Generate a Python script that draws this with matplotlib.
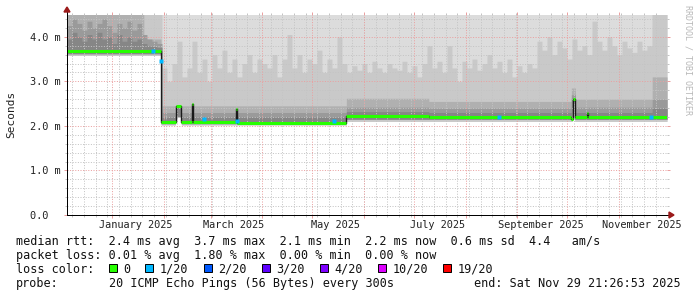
import numpy as np
import pandas as pd
import matplotlib
matplotlib.use("Agg")
import matplotlib.pyplot as plt
import matplotlib.dates as mdates
from matplotlib.patches import Rectangle, Polygon

# ---------------- data (values in ms) ----------------
start = pd.Timestamp("2024-12-04 21:26:53")
end = pd.Timestamp("2025-11-29 21:26:53")

# median rtt (step, post)
median_dates = ["2024-12-04 21:26", "2025-01-30 08:00", "2025-02-08 00:00", "2025-02-11 12:00",
                "2025-02-18 00:00", "2025-02-18 14:00", "2025-03-16 08:00", "2025-03-16 22:00",
                "2025-05-21 12:00", "2025-07-10 00:00", "2025-10-03 12:00", "2025-10-04 06:00",
                "2025-10-04 18:00", "2025-10-05 12:00", "2025-10-13 00:00", "2025-10-13 14:00"]
median_vals = [3.67, 2.08, 2.45, 2.08,
               2.50, 2.08, 2.38, 2.07,
               2.22, 2.19, 2.16, 2.35,
               2.60, 2.19, 2.30, 2.19]

# lowest smoke edge
low_dates = ["2024-12-04 21:26", "2025-01-30 08:00", "2025-02-08 00:00", "2025-02-11 12:00",
             "2025-05-21 12:00", "2025-10-04 06:00", "2025-10-04 18:00", "2025-10-05 12:00"]
low_vals = [3.58, 2.02, 2.38, 2.02, 2.10, 2.28, 2.50, 2.10]
# lower edge of inner smoke bands
lowin_vals = [3.62, 2.05, 2.42, 2.05, 2.15, 2.32, 2.55, 2.15]

# outer smoke band top (per 3-day column)
smoke_top = [4.5] * 19 + [
    3.3, 3.0, 3.4, 3.9, 3.1, 3.3, 3.9, 3.2, 3.5, 3.0, 3.6, 3.3, 3.7, 3.2, 3.5, 3.1, 3.4, 3.6,
    3.2, 3.5, 3.4, 3.3, 3.6, 3.1, 3.5, 4.05, 3.3, 3.6, 3.2, 3.5, 3.4, 3.7, 3.2, 3.5, 3.3, 4.0, 3.4,
    3.2, 3.35, 3.25, 3.4, 3.2, 3.45, 3.3, 3.2, 3.4, 3.3, 3.25, 3.45, 3.2, 3.35, 3.1, 3.4, 3.8, 3.3,
    3.45, 3.2, 3.8, 3.3, 3.0, 3.45, 3.3, 3.5, 3.25, 3.4, 3.6, 3.3, 3.45, 3.2, 3.5, 3.1, 3.35, 3.2,
    3.4, 3.3,
    3.9, 3.7, 4.0, 3.6, 3.9, 3.75, 3.5, 3.95, 3.7, 3.8, 3.6, 4.35, 3.9, 3.7, 4.0, 3.8, 3.6, 3.9,
    3.75, 3.65, 3.9, 3.7, 3.8, 4.5, 4.5, 4.5]

# inner band tops before the drop (per 3-day column)
early_band4_top = [4.25, 4.4, 4.3, 4.15, 4.35, 4.2, 4.3, 4.4, 4.25, 4.1, 4.3, 4.2, 4.35, 4.15,
                   4.3, 4.05, 3.95, 3.9, 3.85]
early_band5_top = [3.95, 4.1, 4.0, 3.9, 4.05, 3.95, 4.1, 3.95, 4.0, 3.85, 4.05, 3.9, 4.0, 3.9,
                   3.95, 3.85, 3.8, 3.78, 3.76]

# inner band tops after the drop (step, post)
band_dates = ["2024-12-04 21:26", "2025-01-20 00:00", "2025-01-30 08:00", "2025-05-21 12:00",
              "2025-07-10 00:00", "2025-10-03 12:00", "2025-10-06 00:00", "2025-11-21 00:00"]
band3_vals = [4.5, 3.95, 2.45, 2.62, 2.55, 2.85, 2.6, 3.1]
band4_vals = [4.05, 3.85, 2.30, 2.42, 2.40, 2.70, 2.42, 2.6]
band5_vals = [3.80, 3.75, 2.20, 2.32, 2.30, 2.62, 2.30, 2.4]

# points with 1/20 packet loss
loss1_dates = ["2025-01-25 12:00", "2025-01-30 06:00", "2025-02-25 00:00", "2025-03-17 00:00",
               "2025-05-14 00:00", "2025-08-21 00:00", "2025-11-20 00:00"]
loss1_vals = [3.68, 3.45, 2.15, 2.10, 2.11, 2.20, 2.20]

loss_labels = ["0", "1/20", "2/20", "3/20", "4/20", "10/20", "19/20"]
loss_colors = ["#26ff00", "#00b8ff", "#0059ff", "#5e00ff", "#7e00ff", "#dd00ff", "#ff0000"]

month_label_dates = ["2025-01-15", "2025-03-15", "2025-05-15", "2025-07-15", "2025-09-15", "2025-11-15"]
y_ticks = [0, 1, 2, 3, 4]
y_ticklabels = ["0.0  ", "1.0 m", "2.0 m", "3.0 m", "4.0 m"]

legend_rows = [
    "median rtt:  2.4 ms avg  3.7 ms max  2.1 ms min  2.2 ms now  0.6 ms sd  4.4   am/s",
    "packet loss: 0.01 % avg  1.80 % max  0.00 % min  0.00 % now",
]
probe_text = "20 ICMP Echo Pings (56 Bytes) every 300s"
end_text = "end: Sat Nov 29 21:26:53 2025"

# ---------------- drawing ----------------
W, H = 697, 297
fig = plt.figure(figsize=(W / 100, H / 100), dpi=100)
fig.patch.set_facecolor("white")
L, R, B, T = 67, 667, 215, 14.5
ax = fig.add_axes([L / W, 1 - B / H, (R - L) / W, (B - T) / H])
ax.set_facecolor("white")
ymax = 4.5
ax.set_xlim(start, end)
ax.set_ylim(0, ymax)

t = pd.date_range(start, end, freq="1h")


def step_eval(dates, vals):
    d = pd.to_datetime(dates).values
    idx = np.searchsorted(d, t.values, side="right") - 1
    idx = np.clip(idx, 0, len(vals) - 1)
    return np.asarray(vals, dtype=float)[idx]


col = np.asarray((t - start) / pd.Timedelta(days=3)).astype(int)
col = np.clip(col, 0, len(smoke_top) - 1)
early = col < len(early_band4_top)
ecol = np.clip(col, 0, len(early_band4_top) - 1)

u2 = np.asarray(smoke_top)[col]
l1 = step_eval(low_dates, low_vals)
lin = step_eval(low_dates, lowin_vals)
u3 = step_eval(band_dates, band3_vals)
u4 = np.where(early, np.asarray(early_band4_top)[ecol], step_eval(band_dates, band4_vals))
u5 = np.where(early, np.asarray(early_band5_top)[ecol], step_eval(band_dates, band5_vals))
u1 = np.full(len(t), ymax)

ax.fill_between(t, l1, u1, color="#dcdcdc", lw=0, zorder=1)
ax.fill_between(t, l1, np.maximum(u2, u3), color="#c9c9c9", lw=0, zorder=1.1)
ax.fill_between(t, lin, u3, color="#b0b0b0", lw=0, zorder=1.2)
ax.fill_between(t, lin, u4, color="#9a9a9a", lw=0, zorder=1.3)
ax.fill_between(t, lin, u5, color="#868686", lw=0, zorder=1.4)

# grid
px = 0.72
minor_c, major_c = "#c4c4c4", "#eaa0a0"
dots = (0, (1, 1.6))
for yv in np.arange(0.2, ymax, 0.2):
    if abs(yv - round(yv)) > 1e-6:
        ax.axhline(yv, color=minor_c, lw=px, ls=dots, zorder=2)
for sunday in pd.date_range("2024-12-08", end, freq="7D"):
    ax.axvline(sunday, color=minor_c, lw=px, ls=dots, zorder=2)
for yv in y_ticks[1:]:
    ax.axhline(yv, color=major_c, lw=px, ls=dots, zorder=2.1)
for m in pd.date_range("2025-01-01", end, freq="MS"):
    ax.axvline(m, color=major_c, lw=px, ls=dots, zorder=2.1)

# median line: thin dark step + coloured horizontal segments
md = list(pd.to_datetime(median_dates)) + [end]
mv = median_vals + [median_vals[-1]]
ax.step(md, mv, where="post", color="#1a1a1a", lw=1.0, zorder=3)
ax.hlines(median_vals, md[:-1], md[1:], color=loss_colors[0], lw=2.2, zorder=3.1)
ax.plot(pd.to_datetime(loss1_dates), loss1_vals, ls="none", marker="s", ms=2.4,
        mec="none", color=loss_colors[1], zorder=3.2)

# axes
for s in ax.spines.values():
    s.set_visible(False)
ax.plot([0, 0], [0, (B - 9) / (B - T)], transform=ax.transAxes, color="black", lw=px,
        clip_on=False, zorder=4)
ax.plot([0, (672 - L) / (R - L)], [0, 0], transform=ax.transAxes, color="black", lw=px,
        clip_on=False, zorder=4)
fig.patches.append(Polygon([[L - 3, H - 12], [L + 3, H - 12], [L, H - 7]], closed=True,
                           transform=None, color="#9b1a1a", zorder=5))
fig.patches.append(Polygon([[669, H - B - 3], [669, H - B + 3], [674, H - B]], closed=True,
                           transform=None, color="#9b1a1a", zorder=5))

mono = "DejaVu Sans Mono"
ax.set_yticks(y_ticks)
ax.set_yticklabels(y_ticklabels, family=mono, fontsize=7.4, color="#222222")
ax.set_yticks(np.arange(0, ymax, 0.2), minor=True)
ax.tick_params(axis="y", which="major", length=2.2, width=px, direction="out", pad=2.5,
               color=major_c, left=True, right=True)
ax.tick_params(axis="y", which="minor", length=1.5, width=px, direction="out",
               color=minor_c, left=True, right=True)
ax.set_xticks(pd.date_range("2025-01-01", end, freq="MS"))
ax.set_xticklabels([])
ax.set_xticks(pd.date_range("2024-12-08", end, freq="7D"), minor=True)
ax.tick_params(axis="x", which="major", length=2.2, width=px, direction="out",
               color=major_c, bottom=True, top=True)
ax.tick_params(axis="x", which="minor", length=1.5, width=px, direction="out",
               color=minor_c, bottom=True, top=True)
xtr = ax.get_xaxis_transform()
for d in month_label_dates:
    dd = pd.Timestamp(d)
    ax.text(mdates.date2num(dd), -0.025, dd.strftime("%B %Y"), transform=xtr, ha="center",
            va="top", family=mono, fontsize=7.4, color="#222222")

fig.text(11 / W, 1 - 114 / H, "Seconds", rotation=90, ha="center", va="center",
         family=mono, fontsize=8, color="#222222")
fig.text(688 / W, 1 - 5 / H, "RRDTOOL / TOBI OETIKER", rotation=270, ha="center", va="top",
         family=mono, fontsize=6, color="#b8b8b8")

# legend
cw = 7.13
x0 = 16
baselines = [245, 258.9, 272.8, 286.7]
fs = 8.5


def put(text, x, y, ha="left"):
    fig.text(x / W, 1 - y / H, text, ha=ha, va="baseline", family=mono, fontsize=fs,
             color="#111111")


put(legend_rows[0], x0, baselines[0])
put(legend_rows[1], x0, baselines[1])
put("loss color:", x0, baselines[2])
bx = x0 + 13 * cw
for lab, c in zip(loss_labels, loss_colors):
    fig.patches.append(Rectangle((bx, H - 271.7), 8, 8, transform=None, facecolor=c,
                                 edgecolor="black", lw=0.7))
    put(lab, bx + 2 * cw, baselines[2])
    bx += (len(lab) + 4) * cw + 1.1
put("probe:", x0, baselines[3])
put(probe_text, x0 + 13 * cw, baselines[3])
put(end_text, 681, baselines[3], ha="right")

fig.savefig("out.png", dpi=100, facecolor="white")
